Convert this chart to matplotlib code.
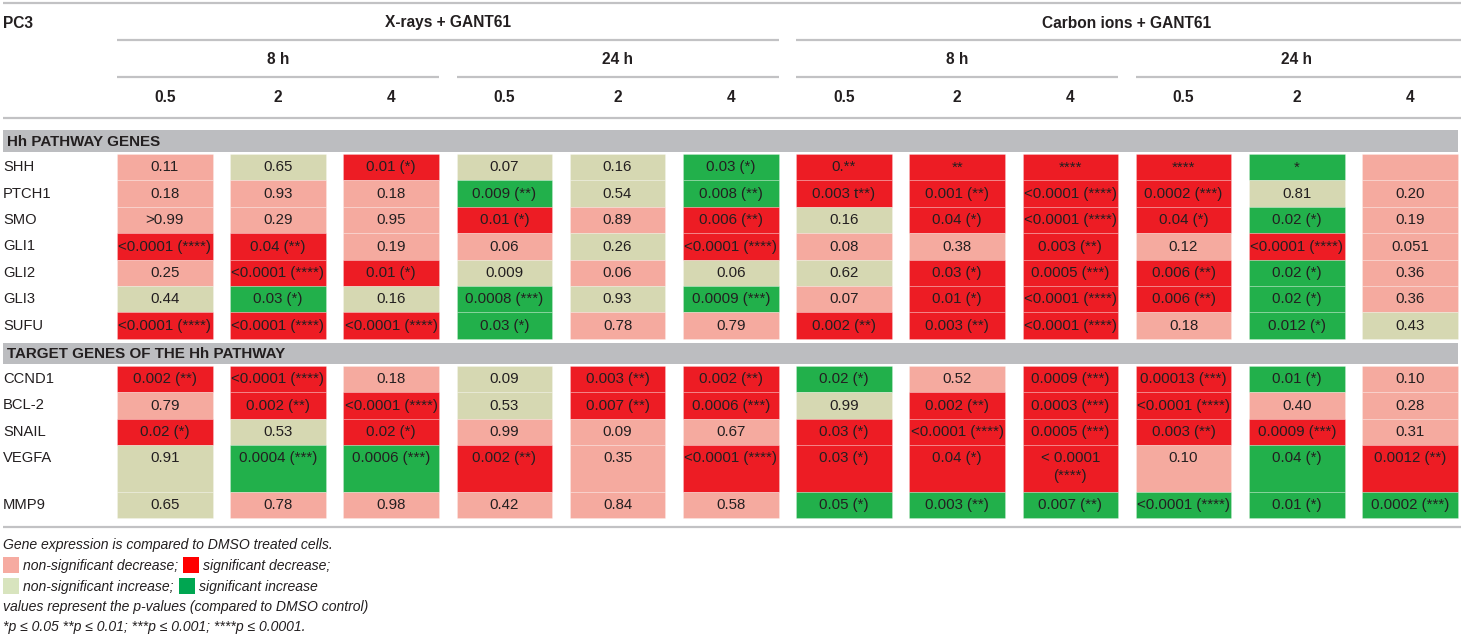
import matplotlib.pyplot as plt
from matplotlib.patches import Rectangle

# header levels
treatments = ['X-rays + GANT61', 'Carbon ions + GANT61']
times = ['8 h', '24 h']
doses = ['0.5', '2', '4']

# gene rows
hh_genes = ['SHH', 'PTCH1', 'SMO', 'GLI1', 'GLI2', 'GLI3', 'SUFU']
target_genes = ['CCND1', 'BCL-2', 'SNAIL', 'VEGFA', 'MMP9']

# p-values as printed (12 columns: X 8h, X 24h, C 8h, C 24h x doses)
p_text = {
    'SHH': ['0.11', '0.65', '0.01 (*)', '0.07', '0.16', '0.03 (*)',
            '0.**', '**', '****', '****', '*', ''],
    'PTCH1': ['0.18', '0.93', '0.18', '0.009 (**)', '0.54', '0.008 (**)',
              '0.003 t**)', '0.001 (**)', '<0.0001 (****)', '0.0002 (***)', '0.81', '0.20'],
    'SMO': ['>0.99', '0.29', '0.95', '0.01 (*)', '0.89', '0.006 (**)',
            '0.16', '0.04 (*)', '<0.0001 (****)', '0.04 (*)', '0.02 (*)', '0.19'],
    'GLI1': ['<0.0001 (****)', '0.04 (**)', '0.19', '0.06', '0.26', '<0.0001 (****)',
             '0.08', '0.38', '0.003 (**)', '0.12', '<0.0001 (****)', '0.051'],
    'GLI2': ['0.25', '<0.0001 (****)', '0.01 (*)', '0.009', '0.06', '0.06',
             '0.62', '0.03 (*)', '0.0005 (***)', '0.006 (**)', '0.02 (*)', '0.36'],
    'GLI3': ['0.44', '0.03 (*)', '0.16', '0.0008 (***)', '0.93', '0.0009 (***)',
             '0.07', '0.01 (*)', '<0.0001 (****)', '0.006 (**)', '0.02 (*)', '0.36'],
    'SUFU': ['<0.0001 (****)', '<0.0001 (****)', '<0.0001 (****)', '0.03 (*)', '0.78', '0.79',
             '0.002 (**)', '0.003 (**)', '<0.0001 (****)', '0.18', '0.012 (*)', '0.43'],
    'CCND1': ['0.002 (**)', '<0.0001 (****)', '0.18', '0.09', '0.003 (**)', '0.002 (**)',
              '0.02 (*)', '0.52', '0.0009 (***)', '0.00013 (***)', '0.01 (*)', '0.10'],
    'BCL-2': ['0.79', '0.002 (**)', '<0.0001 (****)', '0.53', '0.007 (**)', '0.0006 (***)',
              '0.99', '0.002 (**)', '0.0003 (***)', '<0.0001 (****)', '0.40', '0.28'],
    'SNAIL': ['0.02 (*)', '0.53', '0.02 (*)', '0.99', '0.09', '0.67',
              '0.03 (*)', '<0.0001 (****)', '0.0005 (***)', '0.003 (**)', '0.0009 (***)', '0.31'],
    'VEGFA': ['0.91', '0.0004 (***)', '0.0006 (***)', '0.002 (**)', '0.35', '<0.0001 (****)',
              '0.03 (*)', '0.04 (*)', '< 0.0001\n(****)', '0.10', '0.04 (*)', '0.0012 (**)'],
    'MMP9': ['0.65', '0.78', '0.98', '0.42', '0.84', '0.58',
             '0.05 (*)', '0.003 (**)', '0.007 (**)', '<0.0001 (****)', '0.01 (*)', '0.0002 (***)'],
}

# d = non-significant decrease, D = significant decrease,
# i = non-significant increase, I = significant increase
change = {
    'SHH':   'diDiiIDDDDId',
    'PTCH1': 'dddIiIDDDDid',
    'SMO':   'dddDdDiDDDId',
    'GLI1':  'DDddiDddDdDd',
    'GLI2':  'dDDidiiDDDId',
    'GLI3':  'iIiIiIdDDDId',
    'SUFU':  'DDDIddDDDdIi',
    'CCND1': 'DDdiDDIdDDId',
    'BCL-2': 'dDDiDDiDDDdd',
    'SNAIL': 'DiDdddDDDDDd',
    'VEGFA': 'iIIDdDDDDdID',
    'MMP9':  'idddddIIIIII',
}

cell_colors = {'d': '#F5AA9F', 'D': '#ED1C24', 'i': '#D6D8B2', 'I': '#22B04B'}
legend_colors = {'d': '#F6ABA1', 'D': '#FF0000', 'i': '#D8E4BE', 'I': '#00A651'}
line_gray = '#C2C2C4'
bar_gray = '#BCBDC0'
txt_col = '#231F20'
FONT = ['Liberation Sans', 'DejaVu Sans']

fig = plt.figure(figsize=(14.61, 6.38), dpi=100)
ax = fig.add_axes([0, 0, 1, 1])
ax.set_xlim(0, 1461)
ax.set_ylim(638, 0)
ax.axis('off')

# column geometry
x0, pitch, cw = 117, 113.2, 95.5
ncol = len(treatments) * len(times) * len(doses)
col_left = [x0 + pitch * k for k in range(ncol)]


def hline(y, xa, xb):
    ax.plot([xa, xb], [y, y], color=line_gray, lw=1.6, solid_capstyle='butt')


# header
hline(3, 3, 1461)
hline(118, 3, 1461)
ax.text(3, 23, 'PC3', fontsize=11.2, fontweight='bold', family=FONT,
        va='center', ha='left', color=txt_col)
per_treat = len(times) * len(doses)
for t, name in enumerate(treatments):
    a = col_left[t * per_treat]
    b = col_left[(t + 1) * per_treat - 1] + cw
    ax.text((a + b) / 2, 23, name, fontsize=11.2, fontweight='bold', family=FONT,
            ha='center', va='center', color=txt_col)
    hline(40, a, b if t < len(treatments) - 1 else 1461)
    for h, tm in enumerate(times):
        k0 = t * per_treat + h * len(doses)
        a2 = col_left[k0]
        b2 = col_left[k0 + len(doses) - 1] + cw
        ax.text((a2 + b2) / 2, 60, tm, fontsize=11.2, fontweight='bold', family=FONT,
                ha='center', va='center', color=txt_col)
        last = (t == len(treatments) - 1 and h == len(times) - 1)
        hline(77, a2, 1461 if last else b2)
        for d, ds in enumerate(doses):
            ax.text(col_left[k0 + d] + cw / 2, 97, ds, fontsize=11.2, fontweight='bold',
                    family=FONT, ha='center', va='center', color=txt_col)


def section(y, title, h):
    ax.add_patch(Rectangle((3, y), 1455, h, color=bar_gray, lw=0))
    ax.text(7, y + h / 2 + 0.5, title, fontsize=10.9, fontweight='bold', family=FONT,
            ha='left', va='center', color=txt_col)


def gene_rows(genes, y, row_h):
    for g in genes:
        h = row_h.get(g, 26.4)
        ax.text(3, y + 13.2, g, fontsize=10.6, family=FONT, ha='left', va='center',
                color=txt_col)
        for k in range(ncol):
            ax.add_patch(Rectangle((col_left[k], y), cw, h,
                                   facecolor=cell_colors[change[g][k]],
                                   edgecolor=(1, 1, 1, 0.25), lw=0.6))
            s = p_text[g][k]
            if '\n' in s:
                # wrapped value: one text per line
                for j, part in enumerate(s.split('\n')):
                    ax.text(col_left[k] + cw / 2, y + 13.4 + 17.5 * j, part, fontsize=10.8,
                            family=FONT, ha='center', va='center', color=txt_col)
            else:
                ax.text(col_left[k] + cw / 2, y + 13.4, s, fontsize=10.8, family=FONT,
                        ha='center', va='center', color=txt_col)
        y += h
    return y


section(130, 'Hh PATHWAY GENES', 22)
y_end = gene_rows(hh_genes, 154, {})
section(y_end + 4, 'TARGET GENES OF THE Hh PATHWAY', 21)
y_end = gene_rows(target_genes, y_end + 27, {'VEGFA': 47})
hline(y_end + 9, 3, 1461)

# legend / footnote
lk = dict(fontsize=10.1, style='italic', family=FONT, va='center', ha='left', color=txt_col)
ax.text(3, 545, 'Gene expression is compared to DMSO treated cells.', **lk)
legend_rows = [
    (565, [(3, 'd', 'non-significant decrease;'), (183, 'D', 'significant decrease;')]),
    (586, [(3, 'i', 'non-significant increase;'), (179, 'I', 'significant increase')]),
]
for yy, items in legend_rows:
    for xx, code, lab in items:
        ax.add_patch(Rectangle((xx, yy - 8), 15.5, 15.5, color=legend_colors[code], lw=0))
        ax.text(xx + 20, yy + 1, lab, **lk)
ax.text(3, 607, 'values represent the p-values (compared to DMSO control)', **lk)
ax.text(3, 627, '*p \u2264 0.05 **p \u2264 0.01; ***p \u2264 0.001; ****p \u2264 0.0001.', **lk)

fig.savefig('out.png', dpi=100)
